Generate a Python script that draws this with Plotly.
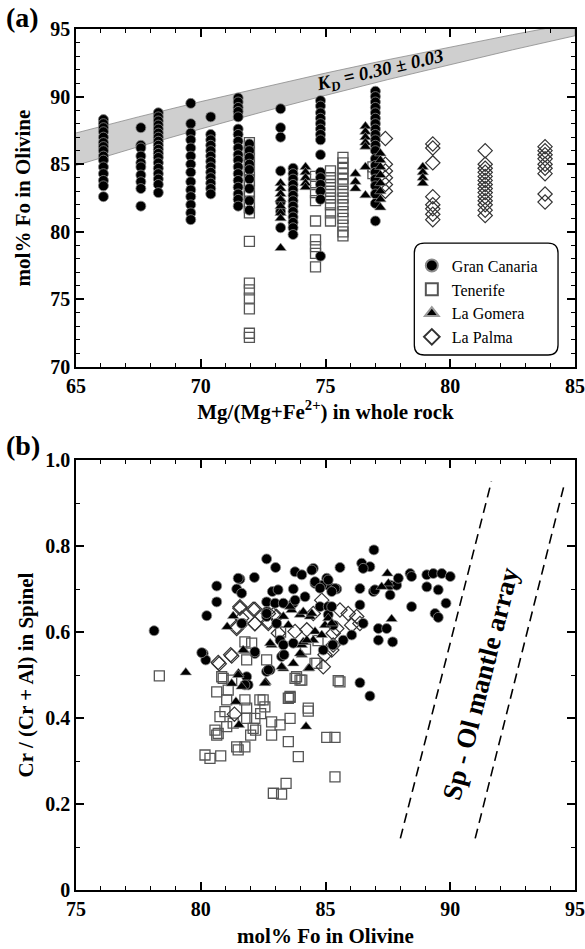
import plotly.graph_objects as go

FONT = "Liberation Serif"

# ---------------- Panel (a) data: Mg# of whole rock vs Fo of olivine ----------------
gc_a_mg = [66.1, 67.6, 68.3, 69.6, 70.4, 71.5, 71.95, 73.2, 73.7, 74.8, 77.0]
gc_a_fo = [
    [88.3, 88.0, 87.7, 87.4, 87.0, 86.6, 86.3, 86.0, 85.6, 85.3, 84.8, 84.3, 83.8, 83.4, 82.6],
    [87.7, 86.4, 86.2, 85.6, 85.1, 84.8, 84.2, 83.7, 83.2, 81.9],
    [88.8, 88.5, 88.2, 87.9, 87.6, 87.3, 87.0, 86.7, 86.4, 86.1, 85.8, 85.5, 85.1, 84.7, 84.3, 83.9, 83.5, 82.9],
    [89.5, 88.0, 87.3, 86.8, 86.2, 85.6, 85.0, 84.4, 83.7, 83.1, 82.6, 82.0, 81.4, 80.9],
    [88.5, 87.2, 86.8, 86.4, 86.0, 85.6, 85.2, 84.8, 84.4, 84.0, 83.6, 83.2, 82.8],
    [89.9, 89.6, 89.2, 88.9, 88.5, 87.6, 87.2, 86.7, 86.2, 85.7, 85.3, 84.8, 84.3, 83.8, 83.3, 82.8, 82.4, 81.9],
    [86.5, 86.0, 85.5, 85.0, 84.6, 83.9, 83.2, 82.3, 81.6],
    [89.1, 87.7, 87.0, 84.5, 82.2, 81.5, 80.3],
    [84.7, 84.3, 83.9, 83.5, 83.1, 82.7, 82.3, 81.9, 81.5, 81.1, 80.7, 80.3, 79.8],
    [89.7, 89.3, 88.8, 88.4, 88.0, 87.6, 87.2, 86.8, 85.7, 84.4, 84.0, 83.5, 83.0, 82.4, 78.2],
    [90.4, 90.0, 89.6, 89.2, 88.8, 88.4, 88.0, 87.6, 87.2, 86.8, 86.4, 86.0, 85.4, 84.9, 84.4, 83.9, 83.4, 82.8, 82.1, 80.8],
]
tf_a_mg = [71.95, 74.6, 75.2, 75.7, 76.9]
tf_a_fo = [
    [86.6, 86.2, 85.8, 85.4, 85.0, 84.6, 84.2, 83.8, 83.4, 83.0, 82.6, 82.2, 81.8, 81.4, 79.3, 76.2, 75.7, 75.1, 74.3, 72.5, 72.2],
    [84.1, 83.5, 82.9, 82.3, 80.8, 79.4, 78.9, 78.4, 77.4],
    [84.5, 84.0, 83.5, 83.0, 82.5, 82.0, 81.4, 80.8],
    [85.5, 85.1, 84.7, 84.3, 83.9, 83.5, 83.0, 82.5, 82.0, 81.5, 81.0, 80.5, 80.0, 79.7],
    [84.8, 84.3],
]
lg_a_mg = [73.2, 74.2, 76.2, 76.6, 77.2, 78.9]
lg_a_fo = [
    [83.6, 83.2, 82.8, 82.4, 81.9, 81.4, 81.0, 78.8],
    [84.8, 84.4, 84.0, 83.6, 83.3],
    [84.3, 83.7, 83.2],
    [87.8, 87.4, 87.0, 86.6, 86.3, 84.8, 82.7],
    [85.8, 85.3, 84.8, 84.2, 83.6, 83.0, 82.4, 81.8],
    [84.8, 84.4, 84.0, 83.6],
]
lp_a_mg = [77.4, 79.3, 81.4, 83.8]
lp_a_fo = [
    [86.9, 85.0, 84.5, 84.0, 83.5, 83.0],
    [86.5, 86.2, 85.1, 82.6, 82.0, 81.7, 81.3, 80.9],
    [86.0, 85.0, 84.7, 84.4, 84.1, 83.8, 83.5, 83.2, 82.9, 82.6, 82.3, 82.0, 81.6, 81.2],
    [86.3, 86.0, 85.7, 85.4, 85.0, 84.7, 84.3, 82.8, 82.2],
]

# KD = 0.30 +/- 0.03 band (edges)
band_mg = [65, 67.5, 70, 72.5, 75, 77.5, 80, 82.5, 85]
band_hi = [87.31, 88.50, 89.63, 90.71, 91.74, 92.73, 93.68, 94.58, 95.45]
band_lo = [84.91, 86.29, 87.61, 88.88, 90.09, 91.26, 92.38, 93.46, 94.50]

# ---------------- Panel (b) data: Fo of olivine vs Cr# of spinel ----------------
gc_b_fo = [78.13, 80.24, 80.64, 80.64, 81.57, 82.15, 82.64, 83.0, 81.44, 81.64, 82.87, 83.1, 83.78, 84.05,
           84.51, 84.58, 85.05, 85.1, 85.45, 83.71, 82.64, 82.98, 83.31, 83.71, 82.64, 82.64, 84.78, 85.11,
           85.11, 85.31, 81.68, 80.1, 80.2, 82.17, 83.18, 83.31, 82.78, 82.64, 81.84, 81.9, 85.31,
           86.94, 86.45, 86.78, 86.51, 85.58, 84.85, 85.11, 85.38, 86.38, 86.92, 86.98, 87.59, 87.85,
           87.92, 88.39, 88.45, 89.06, 89.32, 89.66, 90.0, 89.06, 89.52, 88.45, 89.83, 89.39, 89.52,
           86.38, 85.25, 86.51, 87.12, 87.45, 87.12, 87.69, 85.71, 86.05, 85.29, 86.38, 86.78, 87.59,
           82.17, 83.31, 83.24, 82.71, 83.71, 83.04, 81.64, 82.64, 84.91, 81.77, 84.45, 84.58, 84.78,
           84.18, 83.78, 85.25, 81.5, 83.34, 80.04]
gc_b_cr = [0.603, 0.638, 0.670, 0.707, 0.723, 0.727, 0.770, 0.750, 0.700, 0.690, 0.694, 0.698, 0.740, 0.733,
           0.748, 0.713, 0.725, 0.709, 0.700, 0.700, 0.670, 0.667, 0.667, 0.667, 0.647, 0.636, 0.659, 0.659,
           0.640, 0.616, 0.620, 0.550, 0.535, 0.550, 0.581, 0.547, 0.512, 0.508, 0.496, 0.477, 0.570,
           0.791, 0.760, 0.752, 0.748, 0.750, 0.709, 0.721, 0.701, 0.701, 0.694, 0.698, 0.709, 0.709,
           0.725, 0.736, 0.729, 0.733, 0.736, 0.736, 0.729, 0.705, 0.698, 0.659, 0.667, 0.643, 0.634,
           0.663, 0.659, 0.620, 0.608, 0.608, 0.581, 0.577, 0.581, 0.593, 0.570, 0.482, 0.451, 0.686,
           0.554, 0.570, 0.543, 0.512, 0.574, 0.620, 0.620, 0.643, 0.558, 0.477, 0.744, 0.717, 0.702,
           0.682, 0.674, 0.694, 0.725, 0.547, 0.552]

tf_b_fo = [78.34, 80.64, 80.9, 80.7, 80.57, 81.04, 80.97, 80.17, 80.37, 80.8, 81.5, 81.77, 81.84, 82.17,
           82.2, 82.5, 82.57, 82.84, 82.84, 83.18, 83.58, 83.51, 83.58, 83.91, 84.31, 82.91, 83.24, 83.42,
           85.05, 85.38, 85.38, 83.84, 83.98, 84.65, 80.77, 80.64, 81.44, 82.1, 81.3, 81.84, 85.51, 84.31,
           83.58, 85.58, 84.58, 84.05, 81.77, 82.04, 81.84, 82.64, 83.78, 83.51, 81.77, 82.37, 80.84,
           81.1, 81.04, 81.24, 82.0, 82.4, 84.7, 84.2, 83.2]
tf_b_cr = [0.498, 0.461, 0.492, 0.364, 0.372, 0.380, 0.415, 0.314, 0.306, 0.312, 0.326, 0.333, 0.423, 0.399,
           0.372, 0.442, 0.426, 0.391, 0.360, 0.384, 0.399, 0.345, 0.448, 0.310, 0.416, 0.225, 0.223, 0.248,
           0.355, 0.355, 0.263, 0.496, 0.488, 0.527, 0.403, 0.360, 0.333, 0.376, 0.388, 0.399, 0.487, 0.423,
           0.450, 0.484, 0.527, 0.488, 0.577, 0.574, 0.535, 0.535, 0.492, 0.446, 0.442, 0.442, 0.496,
           0.465, 0.442, 0.488, 0.360, 0.410, 0.580, 0.560, 0.600]

lg_b_fo = [79.4, 81.75, 81.51, 81.24, 81.64, 81.41, 81.53, 82.6, 83.31, 83.71, 84.31, 84.05, 82.84, 84.05,
           84.22, 81.7, 81.5, 83.24, 82.78, 83.51, 83.98, 84.38, 84.58, 84.11, 84.51, 84.85, 84.98, 85.11,
           83.98, 83.64, 84.11, 81.3, 81.06, 87.48, 87.52, 87.65, 87.25, 84.35, 84.45, 85.25, 84.25, 83.58,
           83.31, 82.57]
lg_b_cr = [0.506, 0.556, 0.504, 0.480, 0.473, 0.438, 0.384, 0.484, 0.515, 0.527, 0.515, 0.547, 0.570, 0.570,
           0.380, 0.558, 0.500, 0.519, 0.574, 0.616, 0.640, 0.636, 0.601, 0.577, 0.581, 0.593, 0.616, 0.632,
           0.550, 0.651, 0.647, 0.637, 0.612, 0.736, 0.713, 0.630, 0.705, 0.516, 0.643, 0.620, 0.581, 0.659,
           0.636, 0.481]

lp_b_fo = [80.74, 81.24, 81.35, 84.98, 82.17, 82.71, 82.91, 81.64, 83.11, 83.78, 84.25, 85.25, 84.91, 81.57,
           82.17, 82.71, 84.85, 81.44, 81.57, 82.1, 82.71, 83.04, 81.44, 82.17, 84.51, 85.31, 85.58, 85.91,
           86.25, 86.38, 86.05, 85.31, 85.45, 80.7, 81.2]
lp_b_cr = [0.526, 0.544, 0.409, 0.547, 0.620, 0.620, 0.640, 0.632, 0.597, 0.601, 0.605, 0.558, 0.519, 0.655,
           0.653, 0.643, 0.674, 0.608, 0.659, 0.653, 0.624, 0.636, 0.612, 0.619, 0.643, 0.597, 0.651, 0.643,
           0.636, 0.620, 0.616, 0.570, 0.608, 0.529, 0.547]

# Sp-Ol mantle array boundaries
mantle_cr = [0.12, 0.95]
mantle_left_fo = [88.0, 91.65]
mantle_right_fo = [91.0, 94.6]

b_ytickvals = [0, 0.2, 0.4, 0.6, 0.8, 1.0]
b_yticktext = ["0", "0.2", "0.4", "0.6", "0.8", "1.0"]


def expand(cols, vals):
    xs, ys = [], []
    for c, v in zip(cols, vals):
        xs += [c] * len(v)
        ys += v
    return xs, ys


styles = {
    "Gran Canaria": dict(symbol="circle", size=10, color="black", line=dict(color="#8a8a8a", width=0.8)),
    "Tenerife": dict(symbol="square-open", size=10, color="#555555", line=dict(width=1.3)),
    "La Gomera": dict(symbol="triangle-up", size=10, color="black", line=dict(color="#9a9a9a", width=0.6)),
    "La Palma": dict(symbol="diamond-open", size=11, color="#333333", line=dict(width=1.2)),
}
rank = {"Gran Canaria": 1, "Tenerife": 2, "La Gomera": 3, "La Palma": 4}

fig = go.Figure()

# KD band
fig.add_trace(go.Scatter(
    x=band_mg + band_mg[::-1], y=band_hi + band_lo[::-1], fill="toself",
    fillcolor="#cfcfcf", line=dict(color="#8a8a8a", width=0.8), mode="lines",
    showlegend=False, hoverinfo="skip", xaxis="x", yaxis="y"))

panel_a = {
    "Tenerife": expand(tf_a_mg, tf_a_fo),
    "La Palma": expand(lp_a_mg, lp_a_fo),
    "Gran Canaria": expand(gc_a_mg, gc_a_fo),
    "La Gomera": expand(lg_a_mg, lg_a_fo),
}
for name, (xs, ys) in panel_a.items():
    fig.add_trace(go.Scatter(x=xs, y=ys, mode="markers", name=name, marker=styles[name],
                             legendrank=rank[name], xaxis="x", yaxis="y"))

panel_b = {
    "Tenerife": (tf_b_fo, tf_b_cr),
    "La Palma": (lp_b_fo, lp_b_cr),
    "Gran Canaria": (gc_b_fo, gc_b_cr),
    "La Gomera": (lg_b_fo, lg_b_cr),
}
for name, (xs, ys) in panel_b.items():
    fig.add_trace(go.Scatter(x=xs, y=ys, mode="markers", name=name, marker=styles[name],
                             showlegend=False, xaxis="x2", yaxis="y2"))

for fo_line in (mantle_left_fo, mantle_right_fo):
    fig.add_trace(go.Scatter(x=fo_line, y=mantle_cr, mode="lines",
                             line=dict(color="black", width=1.6, dash="10px,6px"),
                             showlegend=False, hoverinfo="skip", xaxis="x2", yaxis="y2"))

tickfont = dict(family=FONT, size=20, color="black", weight="bold")
titlefont = dict(family=FONT, size=21, color="black", weight="bold")


def axis(rng, dtick, minor_dtick, domain, anchor, title, standoff, **kw):
    d = dict(range=rng, dtick=dtick, domain=domain, anchor=anchor, showline=True, linecolor="black",
             linewidth=1.5, mirror="ticks", ticks="inside", ticklen=8, tickwidth=1.5,
             tickcolor="black", showgrid=False, zeroline=False, tickfont=tickfont, automargin=False,
             minor=dict(ticks="inside", ticklen=4, tickwidth=1.2, tickcolor="black", dtick=minor_dtick,
                        showgrid=False),
             title=dict(text=title, font=titlefont, standoff=standoff))
    d.update(kw)
    return d


ya_top = 1.0
ya_bot = 0.6074
yb_top = 0.4994

fig.update_layout(
    width=585, height=949,
    margin=dict(l=76, r=10, t=29, b=59, autoexpand=False),
    paper_bgcolor="white", plot_bgcolor="white",
    showlegend=True,
    xaxis=axis([65, 85], 5, 1, [0, 1], "y", "Mg/(Mg+Fe<sup>2+</sup>) in whole rock", 8),
    yaxis=axis([70, 95], 5, 1, [ya_bot, ya_top], "x", "mol% Fo in Olivine", 14),
    xaxis2=axis([75, 95], 5, 1, [0, 1], "y2", "mol% Fo in Olivine", 10),
    yaxis2=axis([0, 1.0], 0.2, 0.1, [0, yb_top], "x2", "Cr / (Cr + Al) in Spinel", 6,
                tickmode="array", tickvals=b_ytickvals, ticktext=b_yticktext),
    legend=dict(x=0.673, y=0.745, xanchor="left", yanchor="top", bgcolor="rgba(0,0,0,0)",
                borderwidth=0, font=dict(family=FONT, size=16, color="black"),
                itemwidth=30, itemsizing="constant", tracegroupgap=0),
    shapes=[dict(type="path", xref="x", yref="y",
                 path="M 78.96,79.17 L 83.92,79.17 Q 84.32,79.17 84.32,78.43 L 84.32,71.63 "
                      "Q 84.32,70.89 83.92,70.89 L 78.96,70.89 Q 78.56,70.89 78.56,71.63 "
                      "L 78.56,78.43 Q 78.56,79.17 78.96,79.17 Z",
                 line=dict(color="black", width=1.3), fillcolor="rgba(0,0,0,0)", layer="below")],
    annotations=[
        dict(text="<b>(a)</b>", xref="paper", yref="paper", x=-0.144, y=1.0139, xanchor="left",
             yanchor="middle", showarrow=False, font=dict(family=FONT, size=28, color="black")),
        dict(text="<b>(b)</b>", xref="paper", yref="paper", x=-0.144, y=0.5168, xanchor="left",
             yanchor="middle", showarrow=False, font=dict(family=FONT, size=28, color="black")),
        dict(text="<b><i>K<sub>D</sub> = 0.30 ± 0.03</i></b>", xref="x", yref="y", x=77.2, y=91.9,
             showarrow=False, textangle=-13, font=dict(family=FONT, size=19, color="black")),
        dict(text="<b>Sp - Ol mantle array</b>", xref="x2", yref="y2", x=91.2, y=0.48,
             showarrow=False, textangle=-75.7, font=dict(family=FONT, size=27, color="black")),
    ],
)

fig.write_html("out.html")
